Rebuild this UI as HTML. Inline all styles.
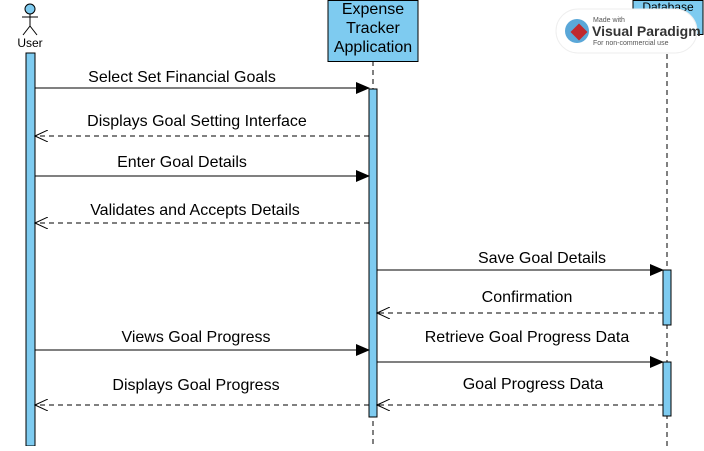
<!DOCTYPE html>
<html><head><style>
body{margin:0;background:#fff;}
svg{font-family:"Liberation Sans",sans-serif;}
</style></head><body>
<svg width="704" height="446" viewBox="0 0 704 446" xmlns="http://www.w3.org/2000/svg">
<defs>
<marker id="f" markerWidth="14" markerHeight="12" refX="13" refY="6" orient="auto" markerUnits="userSpaceOnUse"><path d="M0,0 L14,6 L0,12 Z" fill="#000"/></marker>
<marker id="o" markerWidth="14" markerHeight="12" refX="13" refY="6" orient="auto" markerUnits="userSpaceOnUse"><path d="M0,0 L13,6 L0,12" fill="none" stroke="#000" stroke-width="1"/></marker>
</defs>
<circle cx="30" cy="9" r="5" fill="#7ecbf0" stroke="#000"/>
<line x1="30" y1="14" x2="30" y2="26" stroke="#000"/>
<line x1="22" y1="17" x2="38" y2="17" stroke="#000"/>
<line x1="30" y1="26" x2="23" y2="35" stroke="#000"/>
<line x1="30" y1="26" x2="37" y2="35" stroke="#000"/>
<text x="30" y="47" font-size="12" text-anchor="middle">User</text>
<line x1="373" y1="61" x2="373" y2="446" stroke="#000" stroke-dasharray="5,4"/>
<line x1="667" y1="36" x2="667" y2="446" stroke="#000" stroke-dasharray="5,4"/>
<rect x="328" y="0.5" width="90" height="61" fill="#7ecbf0" stroke="#000"/>
<text x="373" y="14" font-size="16" text-anchor="middle">Expense</text>
<text x="373" y="33" font-size="16" text-anchor="middle">Tracker</text>
<text x="373" y="52" font-size="16" text-anchor="middle">Application</text>
<rect x="633" y="0.5" width="70" height="34" fill="#7ecbf0" stroke="#000"/>
<text x="668" y="11" font-size="12" text-anchor="middle">Database</text>
<rect x="26" y="53" width="9" height="393" fill="#7ecbf0" stroke="#000"/>
<rect x="369" y="89" width="8" height="328" fill="#7ecbf0" stroke="#000"/>
<rect x="663" y="270" width="8" height="55" fill="#7ecbf0" stroke="#000"/>
<rect x="663" y="362" width="8" height="54" fill="#7ecbf0" stroke="#000"/>
<g stroke="#000" stroke-width="1">
<line x1="35" y1="88" x2="369" y2="88" marker-end="url(#f)"/>
<line x1="369" y1="136" x2="35" y2="136" stroke-dasharray="5,4" marker-end="url(#o)"/>
<line x1="35" y1="176" x2="369" y2="176" marker-end="url(#f)"/>
<line x1="369" y1="223" x2="35" y2="223" stroke-dasharray="5,4" marker-end="url(#o)"/>
<line x1="377" y1="270" x2="663" y2="270" marker-end="url(#f)"/>
<line x1="663" y1="313" x2="377" y2="313" stroke-dasharray="5,4" marker-end="url(#o)"/>
<line x1="35" y1="350" x2="369" y2="350" marker-end="url(#f)"/>
<line x1="377" y1="362" x2="663" y2="362" marker-end="url(#f)"/>
<line x1="663" y1="405" x2="377" y2="405" stroke-dasharray="5,4" marker-end="url(#o)"/>
<line x1="369" y1="405" x2="35" y2="405" stroke-dasharray="5,4" marker-end="url(#o)"/>
</g>
<g font-size="16" text-anchor="middle">
<text x="182" y="82">Select Set Financial Goals</text>
<text x="197" y="126">Displays Goal Setting Interface</text>
<text x="182" y="167">Enter Goal Details</text>
<text x="195" y="215">Validates and Accepts Details</text>
<text x="542" y="263">Save Goal Details</text>
<text x="527" y="302">Confirmation</text>
<text x="196" y="342">Views Goal Progress</text>
<text x="527" y="342">Retrieve Goal Progress Data</text>
<text x="533" y="389">Goal Progress Data</text>
<text x="196" y="390">Displays Goal Progress</text>
</g>
<rect x="556" y="9" width="141" height="44" rx="22" fill="#fff" stroke="#eee"/>
<circle cx="577" cy="31" r="12" fill="#5aa7d8"/>
<rect x="573" y="26" width="12" height="12" fill="#c0282d" transform="rotate(45 579 32)"/>
<text x="593" y="22" font-size="7" fill="#555">Made with</text>
<text x="592" y="36" font-size="14" font-weight="bold" fill="#333">Visual Paradigm</text>
<text x="593" y="45" font-size="7" fill="#555">For non-commercial use</text>
</svg>
</body></html>
